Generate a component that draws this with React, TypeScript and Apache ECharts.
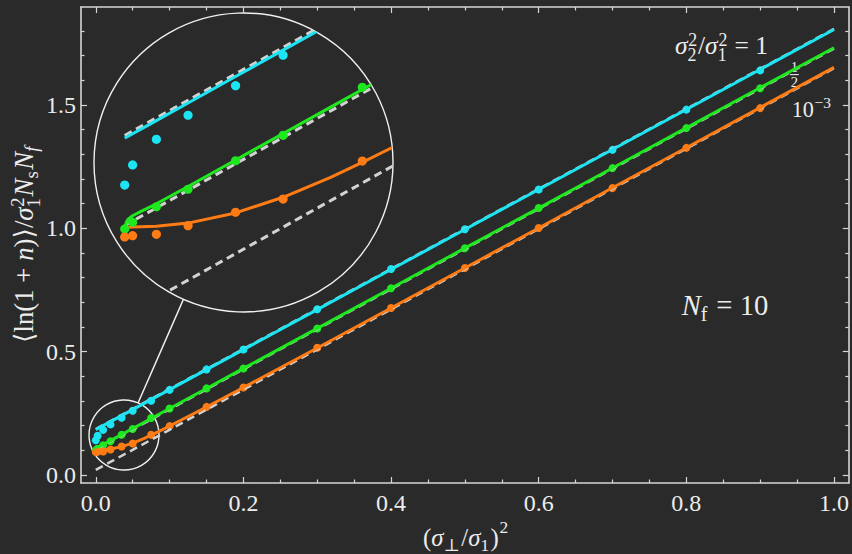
import React, { useEffect, useRef } from 'react';
import * as echarts from 'echarts';

// ---------- data ----------
const pointX = [0, 0.0025, 0.01, 0.02, 0.035, 0.05, 0.075, 0.1, 0.15, 0.2, 0.3, 0.4, 0.5, 0.6, 0.7, 0.8, 0.9];
const cyanPts = [0.1408, 0.1593, 0.1829, 0.2051, 0.2324, 0.2604, 0.301, 0.345, 0.428, 0.509, 0.672, 0.835, 0.996, 1.157, 1.318, 1.481, 1.64];
const greenPts = [0.1003, 0.1065, 0.1208, 0.1369, 0.1632, 0.1866, 0.2309, 0.2695, 0.351, 0.432, 0.594, 0.757, 0.919, 1.082, 1.244, 1.406, 1.568];
const orangePts = [0.0929, 0.0941, 0.0954, 0.1033, 0.1157, 0.1279, 0.1629, 0.198, 0.276, 0.355, 0.516, 0.677, 0.839, 1.001, 1.163, 1.326, 1.487];

const curveX = [0, 0.0005, 0.001, 0.0025, 0.005, 0.01, 0.02, 0.035, 0.05, 0.065, 0.075, 0.085, 0.1, 0.15, 0.2, 0.3, 0.4, 0.5, 0.6, 0.7, 0.8, 0.9, 1.0];
const cyanCurve = [0.184, 0.1848, 0.1856, 0.1881, 0.1921, 0.2002, 0.2164, 0.2408, 0.2651, 0.2894, 0.3057, 0.3219, 0.3462, 0.4273, 0.5084, 0.6706, 0.8328, 0.995, 1.1572, 1.3194, 1.4816, 1.6438, 1.806];
const greenCurve = [0.1, 0.1065, 0.109, 0.1125, 0.1163, 0.1235, 0.1395, 0.1639, 0.1883, 0.2126, 0.2289, 0.2451, 0.2695, 0.3508, 0.432, 0.5945, 0.757, 0.9195, 1.082, 1.2445, 1.407, 1.5695, 1.732];
const orangeCurve = [0.1018, 0.1018, 0.1019, 0.1021, 0.1023, 0.1029, 0.1057, 0.1151, 0.1295, 0.1479, 0.1617, 0.1762, 0.1986, 0.2758, 0.3547, 0.515, 0.6768, 0.8391, 1.0014, 1.1642, 1.3267, 1.4894, 1.6521];

const dashX = [0, 1.0];
const upperDash = [0.1865, 1.8085];
const middleDash = [0.1035, 1.7285];
const lowerDash = [0.0206, 1.6486];

const xMajor = [0, 0.2, 0.4, 0.6, 0.8, 1.0];
const xMinor = [0.05, 0.1, 0.15, 0.25, 0.3, 0.35, 0.45, 0.5, 0.55, 0.65, 0.7, 0.75, 0.85, 0.9, 0.95];
const yMajor = [0, 0.5, 1.0, 1.5];
const yMinor = [0.1, 0.2, 0.3, 0.4, 0.6, 0.7, 0.8, 0.9, 1.1, 1.2, 1.3, 1.4, 1.6, 1.7, 1.8];

// ---------- styles ----------
const BG = '#2a2a2a';
const TXT = '#ececec';
const AX = '#d6d6d6';
const CYAN = '#1de4f3';
const GREEN = '#1ee81e';
const ORANGE = '#ff7b14';
const DASH = '#d2d2d2';
const FONT = "'Liberation Serif', 'DejaVu Serif', serif";

const INSET = { cx: 243.5, cy: 162.5, r: 149.5 };
const ZOOM = { cx: 124, cy: 435, r: 35 };

const zip = (xs: number[], ys: number[]) => xs.map((x, i) => [x, ys[i]]);

type Tok = { t?: string; it?: boolean; sup?: string; sub?: string; supIt?: boolean; subIt?: boolean; supDy?: number; subDy?: number };

function makeMeasurer() {
  const c = document.createElement('canvas').getContext('2d') as CanvasRenderingContext2D;
  return (t: string, size: number, it: boolean) => {
    c.font = `${it ? 'italic ' : ''}${size}px ${FONT}`;
    return c.measureText(t).width;
  };
}

function txt(t: string, x: number, y: number, sz: number, it: boolean, align = 'left') {
  return {
    type: 'text',
    x,
    y,
    style: {
      text: t,
      font: `${it ? 'italic ' : ''}${sz}px ${FONT}`,
      fill: TXT,
      align,
      textAlign: align,
      verticalAlign: 'middle',
      textVerticalAlign: 'middle',
    },
  };
}

function mathGroup(
  toks: Tok[],
  size: number,
  opts: { x: number; y: number; width?: number; align: 'left' | 'center'; rotation?: number },
  measure: (t: string, s: number, it: boolean) => number
) {
  const children: any[] = [];
  let x = 0;
  const small = size * 0.7;
  const put = (t: string, px: number, baseline: number, sz: number, it: boolean) =>
    children.push(txt(t, px, baseline - 0.34 * sz, sz, it));
  for (const tk of toks) {
    if (tk.t) {
      put(tk.t, x, 0, size, !!tk.it);
      x += measure(tk.t, size, !!tk.it);
    }
    if (tk.sup || tk.sub) {
      let w = 0;
      const both = !!(tk.sup && tk.sub);
      if (tk.sup) {
        put(tk.sup, x + size * 0.03, -(tk.supDy ?? (both ? 0.34 : 0.42)) * size, small, !!tk.supIt);
        w = Math.max(w, measure(tk.sup, small, !!tk.supIt));
      }
      if (tk.sub) {
        put(tk.sub, x, (tk.subDy ?? (both ? 0.26 : 0.2)) * size, small, !!tk.subIt);
        w = Math.max(w, measure(tk.sub, small, !!tk.subIt));
      }
      x += w + size * 0.06;
    }
  }
  const W = x;
  const s = opts.width ? opts.width / W : 1;
  const off = opts.align === 'center' ? -W / 2 : 0;
  children.forEach((c) => (c.x += off));
  return { type: 'group', x: opts.x, y: opts.y, rotation: opts.rotation || 0, scaleX: s, scaleY: s, children };
}

function axis(pos: string, min: number, max: number, grid: number, ticks: number[], len: number, line: boolean, labels: boolean) {
  return {
    type: 'value',
    gridIndex: grid,
    position: pos,
    min,
    max,
    splitLine: { show: false },
    axisLine: { show: line, onZero: false, lineStyle: { color: AX, width: 1.6 } },
    axisTick: { show: true, inside: true, length: len, customValues: ticks, lineStyle: { color: AX, width: 1.2 } },
    axisLabel: labels
      ? {
          show: true,
          customValues: ticks,
          formatter: (v: number) => v.toFixed(1),
          color: TXT,
          fontFamily: 'Liberation Serif',
          fontSize: 24,
          margin: pos === 'left' ? 5 : 8,
        }
      : { show: false },
  };
}

export default function App() {
  const ref = useRef<HTMLDivElement>(null);
  useEffect(() => {
    const el = ref.current as HTMLDivElement;
    const chart = echarts.init(el, null, { renderer: 'svg', width: 852, height: 554 });
    const measure = makeMeasurer();

    const XMIN = -0.02, XMAX = 1.02, YMIN = -0.0324, YMAX = 1.897;
    const IXMIN = -0.00969, IXMAX = 0.08469, IYMIN = 0.02378, IYMAX = 0.29935;

    const insetRender = (params: any, api: any) => {
      if (params.dataIndex !== 0) return null;
      const pl = (xs: number[], ys: number[], color: string, w: number, dash?: number[]) => ({
        type: 'polyline',
        shape: { points: xs.map((x, i) => api.coord([x, ys[i]])) },
        style: { stroke: color, lineWidth: w, fill: 'none', lineDash: dash || null, lineJoin: 'round' },
      });
      const dots = (xs: number[], ys: number[], color: string) =>
        xs.map((x, i) => {
          const p = api.coord([x, ys[i]]);
          return { type: 'circle', shape: { cx: p[0], cy: p[1], r: 4.6 }, style: { fill: color } };
        });
      return {
        type: 'group',
        clipPath: { type: 'circle', shape: { cx: INSET.cx, cy: INSET.cy, r: INSET.r } },
        children: [
          pl(dashX, upperDash, DASH, 3, [8, 5]),
          pl(dashX, middleDash, DASH, 3, [8, 5]),
          pl(dashX, lowerDash, DASH, 3, [8, 5]),
          pl(curveX, cyanCurve, CYAN, 3),
          pl(curveX, greenCurve, GREEN, 3),
          pl(curveX, orangeCurve, ORANGE, 3),
          ...dots(pointX, cyanPts, CYAN),
          ...dots(pointX, greenPts, GREEN),
          ...dots(pointX, orangePts, ORANGE),
        ],
      };
    };

    const lineS = (ys: number[], xs: number[], color: string, w: number, dash?: number[]) => ({
      type: 'line',
      data: zip(xs, ys),
      showSymbol: false,
      symbol: 'none',
      lineStyle: { color, width: w, type: dash || 'solid' },
      silent: true,
    });
    const scat = (ys: number[], color: string) => ({
      type: 'scatter',
      data: zip(pointX, ys),
      symbolSize: 8,
      itemStyle: { color, opacity: 1 },
      silent: true,
    });

    const graphics: any[] = [
      { type: 'circle', shape: { cx: INSET.cx, cy: INSET.cy, r: INSET.r }, style: { fill: 'none', stroke: '#f0f0f0', lineWidth: 1.4 } },
      { type: 'circle', shape: { cx: ZOOM.cx, cy: ZOOM.cy, r: ZOOM.r }, style: { fill: 'none', stroke: '#f0f0f0', lineWidth: 1.4 } },
      {
        type: 'line',
        shape: { x1: 138.1, y1: 402.9, x2: 183.4, y2: 299.4 },
        style: { stroke: '#f0f0f0', lineWidth: 1.4 },
      },
      mathGroup(
        [
          { t: '⟨' }, { t: 'ln' }, { t: '(1 + ' }, { t: 'n', it: true }, { t: ')' }, { t: '⟩' }, { t: '/' },
          { t: 'σ', it: true }, { sup: '2', sub: '1' }, { t: 'N', it: true }, { sub: 's' }, { t: 'N', it: true }, { sub: 'f', subIt: true },
        ],
        24,
        { x: 33, y: 244, width: 198, align: 'center', rotation: Math.PI / 2 },
        measure
      ),
      mathGroup(
        [{ t: '(' }, { t: 'σ', it: true }, { sub: '⊥' }, { t: '/' }, { t: 'σ', it: true }, { sub: '1' }, { t: ')' }, { sup: '2', supDy: 0.5 }],
        25,
        { x: 466, y: 546, width: 86, align: 'center' },
        measure
      ),
      mathGroup(
        [{ t: 'σ', it: true }, { sup: '2', sub: '2' }, { t: '/' }, { t: 'σ', it: true }, { sup: '2', sub: '1' }, { t: ' = 1' }],
        19,
        { x: 675, y: 54.5, width: 93, align: 'left' },
        measure
      ),
      mathGroup([{ t: 'N', it: true }, { sub: 'f' }, { t: ' = 10' }], 28, { x: 681.7, y: 315, width: 86.6, align: 'left' }, measure),
      mathGroup([{ t: '10' }, { sup: '−3', supDy: 0.42 }], 20, { x: 791.7, y: 116.7, width: 40, align: 'left' }, measure),
      txt('1', 794.3, 71.9 - 0.34 * 14.5, 14.5, false, 'center'),
      { type: 'line', shape: { x1: 789.8, y1: 74.6, x2: 798.8, y2: 74.6 }, style: { stroke: TXT, lineWidth: 1.1 } },
      txt('2', 794.3, 87.4 - 0.34 * 14.5, 14.5, false, 'center'),
    ];

    const option: any = {
      animation: false,
      backgroundColor: BG,
      grid: [
        { left: 81, top: 7, width: 768, height: 476, containLabel: false },
        { left: 94, top: 13, width: 299, height: 299, containLabel: false },
      ],
      xAxis: [
        axis('bottom', XMIN, XMAX, 0, xMajor, 6, true, true),
        axis('bottom', XMIN, XMAX, 0, xMinor, 3.5, false, false),
        axis('top', XMIN, XMAX, 0, xMajor, 6, true, false),
        axis('top', XMIN, XMAX, 0, xMinor, 3.5, false, false),
        { type: 'value', gridIndex: 1, min: IXMIN, max: IXMAX, show: false },
      ],
      yAxis: [
        axis('left', YMIN, YMAX, 0, yMajor, 6, true, true),
        axis('left', YMIN, YMAX, 0, yMinor, 3.5, false, false),
        axis('right', YMIN, YMAX, 0, yMajor, 6, true, false),
        axis('right', YMIN, YMAX, 0, yMinor, 3.5, false, false),
        { type: 'value', gridIndex: 1, min: IYMIN, max: IYMAX, show: false },
      ],
      series: [
        lineS(upperDash, dashX, DASH, 2.5, [8, 5]),
        lineS(middleDash, dashX, DASH, 2.5, [8, 5]),
        lineS(lowerDash, dashX, DASH, 2.5, [8, 5]),
        lineS(cyanCurve, curveX, CYAN, 3),
        lineS(greenCurve, curveX, GREEN, 3),
        lineS(orangeCurve, curveX, ORANGE, 3),
        scat(cyanPts, CYAN),
        scat(greenPts, GREEN),
        scat(orangePts, ORANGE),
        {
          type: 'custom',
          xAxisIndex: 4,
          yAxisIndex: 4,
          data: [[0.04, 0.16]],
          renderItem: insetRender,
          clip: false,
          silent: true,
          z: 5,
        },
      ],
      graphic: graphics,
    };
    chart.setOption(option);
    return () => chart.dispose();
  }, []);
  return <div ref={ref} style={{ position: 'fixed', left: 0, top: 0, width: 852, height: 554, background: BG }} />;
}
